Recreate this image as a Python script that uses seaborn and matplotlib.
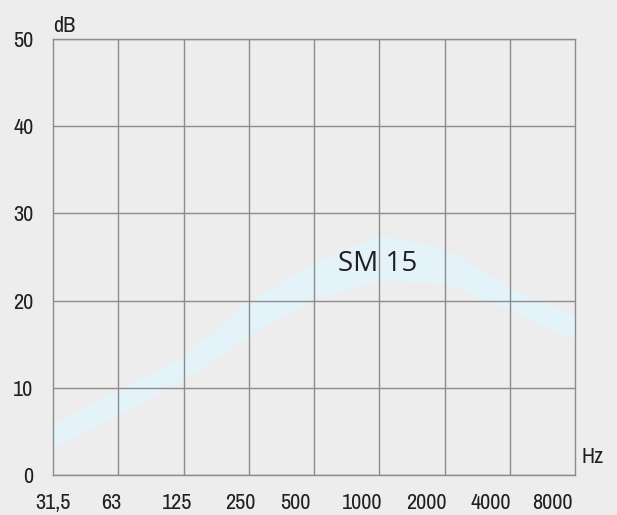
# %% Imports
import numpy as np
import pandas as pd
import matplotlib
matplotlib.use("Agg")
import matplotlib.pyplot as plt
import seaborn as sns
from matplotlib import font_manager

# %% data (octave index 0..8 -> band edges in dB)
freq_labels = ["31,5", "63", "125", "250", "500", "1000", "2000", "4000", "8000"]
octave_idx = [0, 1, 2, 3, 4, 5, 6, 7, 8]
upper_db = [5.9, 9.7, 13.6, 20.0, 24.4, 27.5, 26.0, 21.5, 18.3]
lower_db = [3.1, 6.9, 10.9, 16.0, 20.2, 22.3, 22.0, 18.9, 15.5]
# labels in the original sit a little left of the grid lines
label_pos = [0, 0.9, 1.9, 2.87, 3.72, 4.74, 5.72, 6.71, 7.65]
y_ticks = [0, 10, 20, 30, 40, 50]

df = pd.DataFrame({"idx": octave_idx, "upper": upper_db, "lower": lower_db})

# %% style
BG = "#EDEDED"
GRID = "#8C8C8C"
BAND = "#E4F2FA"
TXT = "#231F20"

names = sorted({f.name for f in font_manager.fontManager.ttflist})
narrow = [n for n in names if "Narrow" in n or "Condensed" in n]

sns.set_style("white", {"axes.facecolor": BG, "figure.facecolor": BG})
plt.rcParams["font.family"] = narrow[:1] + ["DejaVu Sans"]
plt.rcParams["font.stretch"] = "condensed"

fig = plt.figure(figsize=(6.17, 5.15), dpi=100)
ax = fig.add_axes([53 / 617, 40 / 515, 522 / 617, 436 / 515])

ax.fill_between(df["idx"], df["lower"], df["upper"], color=BAND, lw=0, zorder=1)

ax.set_xlim(0, 8)
ax.set_ylim(0, 50)

ax.set_xticks(label_pos)
ax.set_xticklabels(freq_labels)
ax.set_xticks(octave_idx[1:-1], minor=True)
ax.set_yticks(y_ticks)

ax.tick_params(axis="both", which="both", length=0, labelsize=16, colors=TXT)
ax.tick_params(axis="x", pad=13)
ax.tick_params(axis="y", pad=14)

ax.grid(False)
ax.grid(axis="x", which="minor", color=GRID, lw=1.0)
ax.grid(axis="y", which="major", color=GRID, lw=1.0)
ax.set_axisbelow(False)
for s in ax.spines.values():
    s.set_color(GRID)
    s.set_linewidth(1.0)
    s.set_visible(True)

ax.text(4.97, 24.2, "SM 15", ha="center", va="center", fontsize=20,
        color=TXT, family=["Open Sans", "DejaVu Sans"], stretch="normal")
ax.text(0, 50.8, "dB", ha="left", va="baseline", fontsize=16, color=TXT)
ax.text(8.1, 2.1, "Hz", ha="left", va="center", fontsize=16, color=TXT)

fig.savefig("out.png", dpi=100, facecolor=BG)
